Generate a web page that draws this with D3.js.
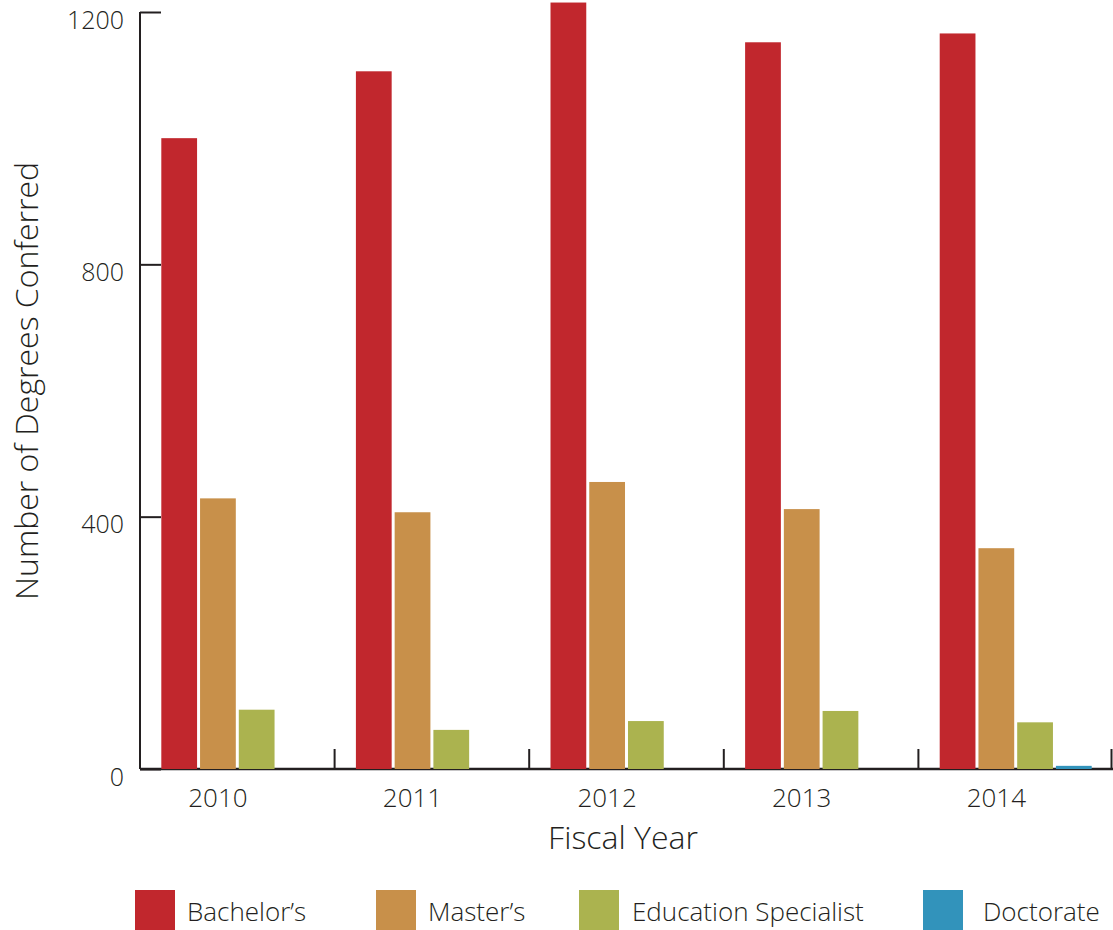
<!DOCTYPE html>
<html>
<head>
<meta charset="utf-8">
<script src="https://cdn.jsdelivr.net/npm/d3@7"></script>
<style>
  html, body { margin: 0; padding: 0; background: #fff; }
  svg text { font-family: "Open Sans", Lato, sans-serif; font-weight: 300; fill: #231f20; }
</style>
</head>
<body>
<svg id="chart" width="1113" height="930"></svg>
<script>
const years = ["2010", "2011", "2012", "2013", "2014"];
const seriesNames = ["Bachelor’s", "Master’s", "Education Specialist", "Doctorate"];
const bachelors = [1000, 1106, 1215, 1152, 1166];
const masters = [429, 407, 455, 412, 350];
const eduSpecialist = [94, 62, 76, 92, 74];
const doctorate = [0, 0, 0, 0, 5];
const yTicks = [0, 400, 800, 1200];
const colors = ["#C1272D", "#C8904A", "#ABB34F", "#3293BB"];

const seriesValues = [bachelors, masters, eduSpecialist, doctorate];

const svg = d3.select("#chart");
const mLeft = 140, mRight = 1113, mTop = 12, mBottom = 769;

const x0 = d3.scaleBand().domain(years).range([mLeft, mRight]).padding(0);
const x1 = d3.scaleBand().domain(seriesNames).range([0, x0.bandwidth()])
  .paddingInner(0.077).paddingOuter(0.55);
const y = d3.scaleLinear().domain([0, 1200]).range([mBottom, mTop]);
const color = d3.scaleOrdinal().domain(seriesNames).range(colors);

// x axis (boundary ticks)
const boundaries = years.map(yr => x0(yr) + x0.bandwidth());
const xg = svg.append("g");
xg.append("line").attr("x1", mLeft).attr("x2", mRight).attr("y1", mBottom).attr("y2", mBottom)
  .attr("stroke", "#231f20").attr("stroke-width", 2.5);
xg.selectAll("line.tk").data(boundaries).join("line").attr("class", "tk")
  .attr("x1", d => Math.min(d, mRight - 1.5)).attr("x2", d => Math.min(d, mRight - 1.5))
  .attr("y1", mBottom).attr("y2", mBottom - 20)
  .attr("stroke", "#231f20").attr("stroke-width", 2);
xg.selectAll("text").data(years).join("text")
  .attr("x", d => x0(d) + x1(seriesNames[1]) + x1.bandwidth() / 2)
  .attr("y", 807)
  .attr("text-anchor", "middle")
  .style("font-size", "26px")
  .text(d => d);

// bars
const groups = svg.append("g").selectAll("g").data(years).join("g")
  .attr("transform", d => `translate(${x0(d)},0)`);
groups.selectAll("rect")
  .data((yr, i) => seriesNames.map((s, j) => ({ s, v: seriesValues[j][i] })).filter(d => d.v > 0))
  .join("rect")
  .attr("x", d => x1(d.s))
  .attr("width", x1.bandwidth())
  .attr("y", d => y(d.v))
  .attr("height", d => y(0) - y(d.v))
  .attr("fill", d => color(d.s));

// y axis
const yAxis = svg.append("g").attr("transform", `translate(${mLeft},0)`)
  .call(d3.axisRight(y).tickValues(yTicks).tickSize(21).tickFormat(d3.format("d")));
yAxis.select(".domain").attr("stroke", "#231f20").attr("stroke-width", 2)
  .attr("d", `M0,${mTop}V${mBottom}`);
yAxis.selectAll(".tick line").attr("stroke", "#231f20").attr("stroke-width", 2);
yAxis.selectAll(".tick text")
  .attr("x", -16).attr("dy", "0.32em").attr("transform", "translate(0,8)")
  .attr("text-anchor", "end")
  .style("font-size", "25px");

// axis titles
svg.append("text").attr("x", 623).attr("y", 849).attr("text-anchor", "middle")
  .style("font-size", "32px").text("Fiscal Year");
svg.append("text").attr("transform", "translate(38,381) rotate(-90)")
  .attr("text-anchor", "middle").style("font-size", "32px")
  .text("Number of Degrees Conferred");

// legend
const legendX = [135, 376, 579, 923];
const legendTextX = [187, 428, 632, 983];
const lg = svg.append("g").selectAll("g").data(seriesNames).join("g");
lg.append("rect").attr("x", (d, i) => legendX[i]).attr("y", 890)
  .attr("width", 40).attr("height", 40).attr("fill", d => color(d));
lg.append("text").attr("x", (d, i) => legendTextX[i]).attr("y", 912).attr("dy", "0.35em")
  .style("font-size", "26px").text(d => d);
</script>
</body>
</html>
